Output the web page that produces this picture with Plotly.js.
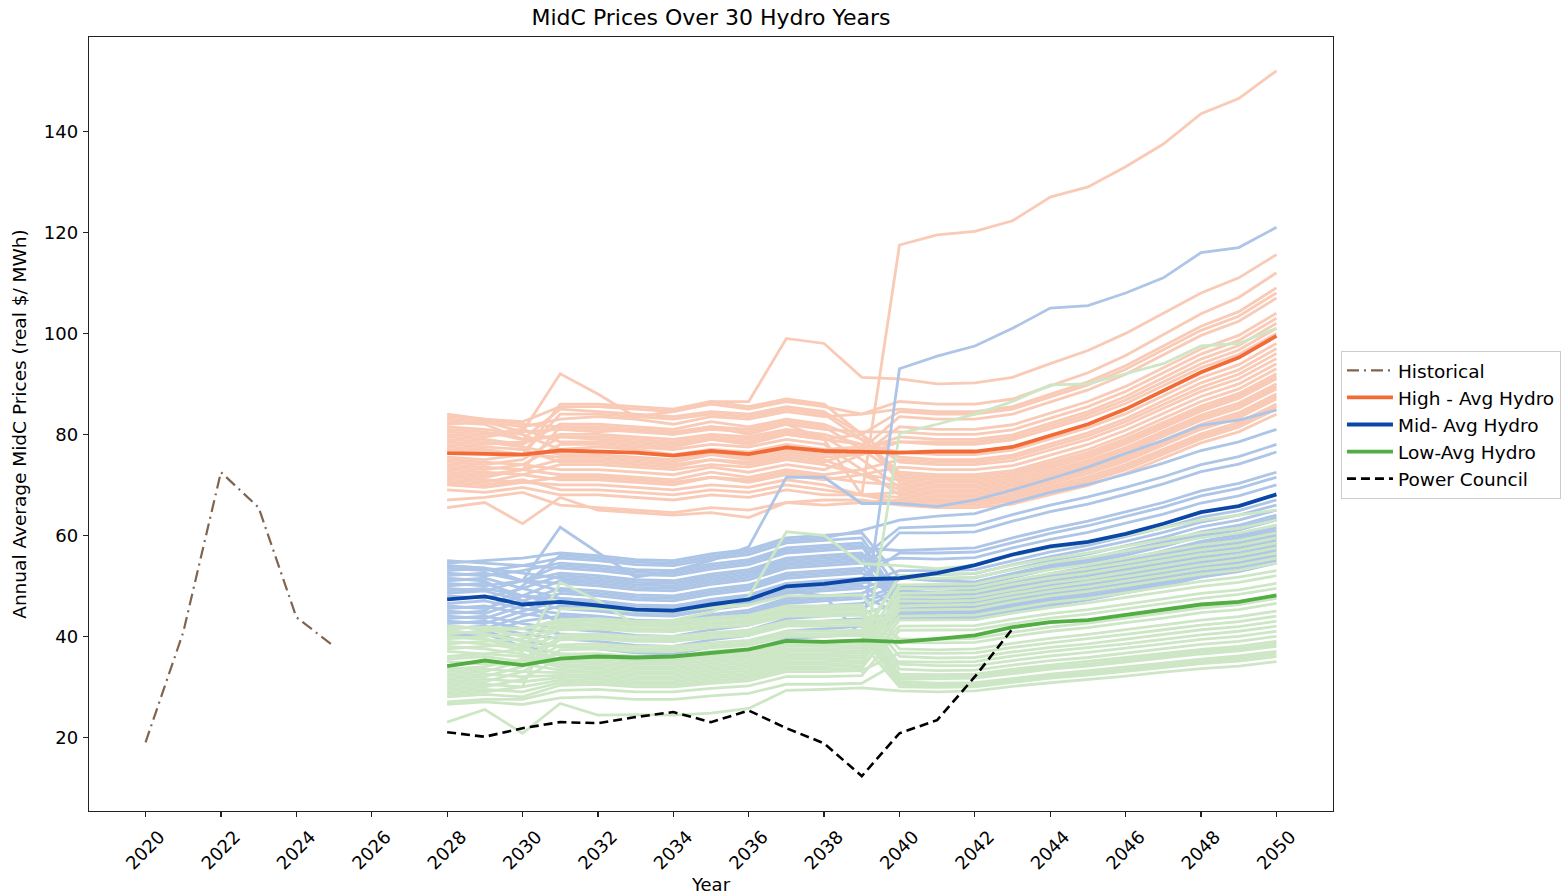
<!DOCTYPE html>
<html>
<head>
<meta charset="utf-8">
<script src="https://cdn.plot.ly/plotly-3.0.1.min.js"></script>
<style>html,body{margin:0;padding:0;background:#fff;}#chart{width:1562px;height:895px;}</style>
</head>
<body>
<div id="chart"></div>
<script>
// ---------------- data ----------------
const histYears = [2020, 2021, 2022, 2023, 2024, 2025];
const histValues = [19, 40.8, 72.5, 65.5, 43.8, 38];

const years = [2028, 2029, 2030, 2031, 2032, 2033, 2034, 2035, 2036, 2037, 2038, 2039, 2040, 2041, 2042, 2043, 2044, 2045, 2046, 2047, 2048, 2049, 2050];

const highAvg = [76.3, 76.2, 76.0, 76.8, 76.6, 76.4, 75.8, 76.7, 76.1, 77.4, 76.7, 76.6, 76.4, 76.6, 76.6, 77.5, 79.8, 82.0, 85.0, 88.7, 92.3, 95.2, 99.5];
const midAvg = [47.3, 47.9, 46.3, 46.8, 46.1, 45.3, 45.1, 46.3, 47.3, 49.9, 50.4, 51.3, 51.5, 52.5, 54.1, 56.2, 57.8, 58.7, 60.3, 62.3, 64.6, 65.8, 68.1];
const lowAvg = [34.1, 35.2, 34.3, 35.6, 36.0, 35.8, 36.0, 36.7, 37.4, 39.1, 38.9, 39.2, 38.9, 39.5, 40.2, 41.8, 42.8, 43.2, 44.2, 45.3, 46.3, 46.8, 48.1];

const pcYears = [2028, 2029, 2030, 2031, 2032, 2033, 2034, 2035, 2036, 2037, 2038, 2039, 2040, 2041, 2042, 2043];
const pcValues = [21, 20.1, 21.8, 23, 22.8, 24, 25, 23, 25.3, 21.8, 18.8, 12.3, 20.8, 23.4, 32, 41.5];

// 30 hydro-year runs, High scenario
const highRuns = [
  [80, 79.5, 80.5, 81, 80.5, 81, 80, 81.5, 80, 82, 79, 68, 117.5, 119.5, 120.2, 122.3, 127, 129, 133, 137.5, 143.5, 146.5, 152],
  [83, 82.5, 80.5, 92, 88, 83.5, 84.5, 86.5, 86.5, 99, 98, 91.3, 91, 90, 90.2, 91.3, 94, 96.6, 100, 104, 108, 111, 115.6],
  [84, 83, 82, 81.5, 81, 80.5, 80, 81, 80.5, 82, 81, 80.5, 80.5, 80, 80, 80.9, 83.2, 85.5, 88.5, 92.2, 95.9, 98.6, 103],
  [83.5, 83, 82.5, 85.5, 85.5, 85, 84.5, 86, 85, 86.5, 85.5, 84, 85, 84.5, 84.5, 85.5, 87.9, 90.4, 93.6, 97.5, 101.4, 104.3, 109],
  [82.5, 82, 79, 79.5, 79, 78.5, 78, 79, 78.5, 80, 79, 78, 76.5, 76, 76, 76.9, 79.1, 81.3, 84.1, 87.7, 91.2, 93.8, 98],
  [82, 82.5, 81.5, 83, 83.5, 83, 82, 83.5, 83, 84.5, 83.5, 84, 86.5, 86, 86, 87, 89.6, 92.2, 95.6, 99.8, 103.9, 107.1, 112],
  [81.5, 81, 80, 77, 77.5, 77, 76, 77, 76.5, 78, 77, 77.5, 78.5, 78.5, 78.5, 79.4, 81.7, 83.9, 86.8, 90.4, 94, 96.7, 101],
  [81, 80.5, 79, 85, 84.5, 84, 83.5, 84.5, 84, 85.5, 84.5, 80, 74.5, 74, 74, 74.8, 76.9, 79, 81.8, 85.1, 88.5, 91, 95],
  [80.5, 80, 81, 78.5, 78.5, 78, 77.5, 79, 78, 80, 79, 80, 84.5, 84, 84, 85, 87.4, 89.8, 92.9, 96.7, 100.6, 103.4, 108],
  [79.5, 79, 78, 82, 82, 81.5, 81, 82.5, 81.5, 83, 82, 79, 72.5, 72, 72, 72.8, 74.9, 77, 79.8, 83.1, 86.5, 89, 93],
  [79, 78.5, 77.5, 76, 76, 75.5, 75, 76.5, 75.5, 77, 76, 77, 79.5, 79, 79, 79.9, 82.2, 84.5, 87.5, 91.2, 94.9, 97.6, 102],
  [78.5, 78, 78.5, 80, 80, 79.5, 79, 80, 79.5, 81, 80, 78, 75.5, 75, 75, 75.9, 78.1, 80.3, 83.1, 86.7, 90.2, 92.8, 97],
  [78, 77.5, 77, 74.5, 74.5, 74, 73.5, 75, 74, 75.5, 74.5, 77, 83.5, 83, 83, 84, 86.4, 88.8, 91.9, 95.7, 99.6, 102.4, 107],
  [77.5, 77, 76, 84, 84, 83.5, 83, 84, 83.5, 85, 84, 79, 71.5, 71, 71, 71.8, 73.9, 75.9, 78.6, 81.9, 85.1, 87.6, 91.5],
  [77, 76.5, 76, 75.5, 75.5, 75, 74.5, 76, 75, 76.5, 75.5, 76, 78.5, 78, 78, 78.9, 81.1, 83.3, 86.1, 89.7, 93.2, 95.8, 100],
  [75.5, 75, 76, 86, 86, 85.5, 85, 86.5, 85.5, 87, 86, 80, 70.5, 70, 70, 70.8, 72.8, 74.8, 77.4, 80.6, 83.8, 86.2, 90],
  [75, 74.5, 74, 73, 73, 72.5, 72, 73.5, 72.5, 74, 73, 76, 81.5, 81, 81, 81.9, 84.2, 86.5, 89.5, 93.2, 96.9, 99.6, 104],
  [74.5, 74, 75, 79.5, 79.5, 79, 78.5, 79.5, 79, 80.5, 79.5, 75, 69.5, 69, 69, 69.8, 71.8, 73.8, 76.4, 79.6, 82.8, 85.2, 89],
  [74, 73.5, 73, 72, 72, 71.5, 71, 72.5, 71.5, 73, 72, 73, 75, 74.5, 74.5, 75.4, 77.5, 79.7, 82.5, 85.9, 89.3, 91.9, 96],
  [73.5, 73, 74, 78, 78, 77.5, 77, 78, 77.5, 79, 78, 73, 68, 67.5, 67.5, 68.3, 70.2, 72.2, 74.7, 77.8, 81, 83.3, 87],
  [73, 72.5, 72, 71, 71, 70.5, 70, 71.5, 70.5, 72, 71, 72, 73.5, 73, 73, 73.8, 75.9, 78, 80.8, 84.1, 87.5, 90, 94],
  [72.5, 72, 73, 75, 75, 74.5, 74, 75, 74.5, 76, 75, 72, 69, 68.5, 68.5, 69.3, 71.2, 73.2, 75.7, 78.8, 82, 84.3, 88],
  [72, 71.5, 73, 81.5, 81.5, 81, 80.5, 81.5, 81, 82.5, 81.5, 77, 72, 71.5, 71.5, 72.3, 74.4, 76.4, 79.1, 82.4, 85.6, 88.1, 92],
  [71.5, 71, 70.5, 70, 70, 69.5, 69, 70, 69.5, 71, 70, 68, 66.5, 66, 66, 66.8, 68.7, 70.6, 73, 76.1, 79.1, 81.4, 85],
  [71, 70.5, 72, 74, 74, 73.5, 73, 74, 73.5, 75, 74, 72, 71, 70.5, 70.5, 71.3, 73.4, 75.4, 78.1, 81.4, 84.6, 87.1, 91],
  [70.5, 70, 71, 69, 69, 68.5, 68, 69, 68.5, 70, 69, 68, 67.5, 67, 67, 67.8, 69.7, 71.6, 74, 77.1, 80.1, 82.4, 86],
  [70, 69.5, 70.5, 71.5, 71.5, 71, 70.5, 71.5, 71, 72.5, 71.5, 70.5, 70, 69.5, 69.5, 70.3, 72.3, 74.3, 76.9, 80.1, 83.3, 85.7, 89.5],
  [69, 68.5, 69.5, 68, 68, 67.5, 67, 68, 67.5, 69, 68, 68, 68.5, 68, 68, 68.8, 70.7, 72.7, 75.2, 78.3, 81.5, 83.8, 87.5],
  [67, 67.5, 68.5, 66, 65.5, 65, 64.5, 65.5, 65, 66.5, 66, 66.5, 67, 66.5, 66.5, 67.3, 69.2, 71.1, 73.5, 76.6, 79.6, 81.9, 85.5],
  [65.5, 66.5, 62.3, 67.5, 65, 64.5, 64, 64.5, 63.5, 66.5, 67, 67, 66, 65.5, 65.5, 66.2, 68.1, 69.9, 72.3, 75.3, 78.3, 80.5, 84]
];

// 30 hydro-year runs, Mid scenario
const midRuns = [
  [49, 49.5, 48, 47.5, 47, 46, 46, 47, 48, 49, 48, 40, 93, 95.5, 97.5, 101, 105, 105.5, 108, 111, 116, 117, 121],
  [54, 53.5, 51, 61.6, 56.6, 51.7, 53, 55, 57.7, 71.5, 71.5, 66.3, 66.3, 65.7, 67, 69, 71.2, 73.5, 76.2, 78.8, 81.8, 82.8, 84.8],
  [55, 54.5, 54, 53.5, 53, 52.2, 52, 53.3, 54.2, 56.5, 57, 57.5, 57, 57.2, 57.5, 59.5, 61.3, 62.8, 64.6, 66.5, 68.8, 70.3, 72.5],
  [54.5, 55, 55.5, 56.5, 56, 55.2, 55, 56.3, 57.2, 59.5, 60, 60.5, 51.5, 51, 50.8, 52.5, 54.1, 55.4, 57, 58.7, 60.7, 62, 64],
  [54, 53.5, 52.5, 51.5, 51, 50.2, 50, 51.3, 52.2, 54.5, 55, 55.5, 61.5, 61.8, 62, 64.1, 66, 67.6, 69.5, 71.6, 74, 75.6, 78],
  [53.5, 53, 54, 55.5, 55, 54.2, 54, 55.3, 56.2, 58.5, 59, 59.5, 49, 48.6, 48.4, 50, 51.6, 52.8, 54.3, 56, 57.9, 59.1, 61],
  [53, 53.5, 51, 49, 48.5, 47.7, 47.5, 48.8, 49.7, 52, 52.5, 53, 60.5, 60.5, 60.7, 62.8, 64.7, 66.2, 68.1, 70.2, 72.6, 74.1, 76.5],
  [52.5, 52, 53, 54.5, 54, 53.2, 53, 54.3, 55.2, 57.5, 58, 58.5, 47.5, 47, 46.8, 48.4, 49.9, 51.1, 52.5, 54.1, 56, 57.2, 59],
  [52, 52.5, 51, 50.5, 50, 49.2, 49, 50.3, 51.2, 53.5, 54, 54.5, 55.5, 55.3, 55.6, 57.5, 59.2, 60.6, 62.4, 64.2, 66.4, 67.8, 70],
  [51.5, 51, 47, 42.5, 42, 41.2, 41, 42.3, 43.2, 45.5, 46, 46.5, 49.5, 49.3, 49.2, 50.9, 52.4, 53.7, 55.2, 56.9, 58.8, 60.1, 62],
  [51, 51.5, 49.5, 47.5, 47, 46.2, 46, 47.3, 48.2, 50.5, 51, 51.5, 56.5, 56.5, 56.7, 58.6, 60.4, 61.9, 63.7, 65.6, 67.8, 69.3, 71.5],
  [50.5, 50, 51, 52.5, 52, 51.2, 51, 52.3, 53.2, 55.5, 56, 56.5, 48, 47.8, 47.6, 49.2, 50.7, 51.9, 53.4, 55, 56.9, 58.1, 60],
  [50, 50.5, 48, 46.5, 46, 45.2, 45, 46.3, 47.2, 49.5, 50, 50.5, 53, 53, 53.2, 55, 56.7, 58, 59.7, 61.5, 63.6, 64.9, 67],
  [49.5, 49, 51, 54, 53.5, 52.7, 52.5, 53.8, 54.7, 57, 57.5, 58, 46, 45.8, 45.6, 47.1, 48.6, 49.8, 51.2, 52.7, 54.5, 55.7, 57.5],
  [48.5, 49, 47, 45.5, 45, 44.2, 44, 45.3, 46.2, 48.5, 49, 49.5, 52, 52.2, 52.4, 54.2, 55.8, 57.2, 58.8, 60.6, 62.6, 64, 66],
  [48, 47.5, 49.5, 52, 51.5, 50.7, 50.5, 51.8, 52.7, 55, 55.5, 56, 47, 46.6, 46.4, 48, 49.4, 50.6, 52.1, 53.7, 55.5, 56.7, 58.5],
  [46.5, 47, 45.5, 44.5, 44, 43.2, 43, 44.3, 45.2, 47.5, 48, 48.5, 51.5, 51.4, 51.6, 53.3, 55, 56.3, 57.9, 59.6, 61.7, 63, 65],
  [46, 45.5, 48, 51, 50.5, 49.7, 49.5, 50.8, 51.7, 54, 54.5, 55, 45, 44.8, 44.8, 46.3, 47.7, 48.9, 50.3, 51.8, 53.6, 54.7, 56.5],
  [45.5, 46, 44.5, 43.5, 43, 42.2, 42, 43.3, 44.2, 46.5, 47, 47.5, 50, 50.2, 50.4, 52.1, 53.7, 55, 56.6, 58.3, 60.2, 61.5, 63.5],
  [45, 44.5, 47, 49.5, 49, 48.2, 48, 49.3, 50.2, 52.5, 53, 53.5, 47.5, 47.2, 47.2, 48.8, 50.3, 51.5, 53, 54.6, 56.4, 57.7, 59.5],
  [44.5, 45, 50, 56, 55.5, 54.7, 54.5, 55.8, 56.7, 59, 59.5, 61, 63, 63.8, 64.3, 66.5, 68.5, 70.1, 72.1, 74.3, 76.8, 78.5, 81],
  [44, 43.5, 46, 48.5, 48, 47.2, 47, 48.3, 49.2, 51.5, 52, 52.5, 50, 49.8, 50, 51.7, 53.3, 54.6, 56.1, 57.8, 59.8, 61.1, 63],
  [43.5, 44, 42.5, 41.5, 41, 40.2, 40, 41.3, 42.2, 44.5, 45, 45.5, 49, 48.6, 48.8, 50.5, 52, 53.2, 54.8, 56.4, 58.3, 59.6, 61.5],
  [43, 42.5, 45, 47, 46.5, 45.7, 45.5, 46.8, 47.7, 50, 50.5, 51, 48.5, 48.2, 48, 49.6, 51.1, 52.4, 53.9, 55.5, 57.4, 58.6, 60.5],
  [42.5, 43, 41.5, 40.5, 40, 39.2, 39, 40.3, 41.2, 43.5, 44, 44.5, 46.5, 46.2, 46, 47.6, 49, 50.2, 51.6, 53.2, 55, 56.2, 58],
  [42, 41.5, 44, 46, 45.5, 44.7, 44.5, 45.8, 46.7, 49, 49.5, 50, 45.5, 45.3, 45.2, 46.7, 48.2, 49.3, 50.7, 52.3, 54.1, 55.2, 57],
  [41.5, 42, 40.5, 39.5, 39, 38.2, 38, 39.3, 40.2, 42.5, 43, 43.5, 44.5, 44.3, 44.4, 45.9, 47.3, 48.5, 49.9, 51.4, 53.1, 54.3, 56],
  [41, 40.5, 43, 44, 43.5, 42.7, 42.5, 43.8, 44.7, 47, 47.5, 48, 44.5, 44.2, 44, 45.5, 46.9, 48, 49.4, 50.9, 52.6, 53.8, 55.5],
  [40.5, 41, 39, 38, 37.5, 36.7, 36.5, 37.8, 38.7, 41, 41.5, 42, 44, 43.8, 43.7, 45.2, 46.5, 47.7, 49, 50.5, 52.2, 53.3, 55],
  [40, 40.5, 38, 36.5, 36, 35.2, 35, 36.3, 37.2, 39.5, 40, 40.5, 43.5, 43.4, 43.3, 44.8, 46.1, 47.2, 48.6, 50, 51.7, 52.8, 54.5]
];

// 30 hydro-year runs, Low scenario
const lowRuns = [
  [35.5, 36, 35, 36.5, 36.5, 36, 36, 37, 37.5, 38.5, 38, 33, 80.2, 82, 84, 86.5, 89.8, 90, 92, 94, 97.5, 98, 101],
  [39.8, 39.5, 37, 50.7, 47.1, 42.2, 43.2, 44.8, 47.8, 60.7, 60, 54.4, 54, 53.4, 54, 56, 57.5, 58.5, 60, 61.5, 63, 64, 65],
  [42, 41.5, 40, 37.8, 38, 37.5, 37.5, 38.2, 38.7, 40.5, 40.5, 40.7, 51.5, 51.5, 51.7, 53.2, 54.6, 55.6, 56.9, 58.2, 59.5, 60.5, 62],
  [41.5, 41.8, 41.5, 42.8, 43, 42.5, 42.5, 43.2, 43.7, 45.5, 45.5, 45.7, 39.5, 39.4, 39.6, 40.8, 41.8, 42.6, 43.6, 44.6, 45.6, 46.3, 47.5],
  [41, 40.5, 39, 36.3, 36.5, 36, 36, 36.7, 37.2, 39, 39, 39.2, 52, 52.3, 52.5, 54.1, 55.4, 56.5, 57.8, 59.1, 60.5, 61.4, 63],
  [40.5, 41, 41.5, 43.3, 43.5, 43, 43, 43.7, 44.2, 46, 46, 46.2, 37.5, 37.3, 37.5, 38.6, 39.6, 40.4, 41.3, 42.2, 43.2, 43.9, 45],
  [40, 39.5, 38, 35.3, 35.5, 35, 35, 35.7, 36.2, 38, 38, 38.2, 49.5, 49.4, 49.6, 51.1, 52.4, 53.4, 54.6, 55.8, 57.1, 58, 59.5],
  [39.5, 40, 40.5, 42.3, 42.5, 42, 42, 42.7, 43.2, 45, 45, 45.2, 36, 35.7, 35.8, 36.9, 37.8, 38.5, 39.4, 40.3, 41.3, 41.9, 43],
  [39, 38.5, 37.5, 34.8, 35, 34.5, 34.5, 35.2, 35.7, 37.5, 37.5, 37.7, 50.2, 50.3, 50.4, 51.9, 53.2, 54.2, 55.5, 56.8, 58.1, 59, 60.5],
  [38.5, 39, 39.5, 41.8, 42, 41.5, 41.5, 42.2, 42.7, 44.5, 44.5, 44.7, 34.5, 34.2, 34.2, 35.2, 36.1, 36.8, 37.6, 38.5, 39.4, 40, 41],
  [38, 37.5, 36.5, 34.3, 34.5, 34, 34, 34.7, 35.2, 37, 37, 37.2, 47.8, 47.7, 47.9, 49.3, 50.6, 51.5, 52.7, 53.9, 55.2, 56.1, 57.5],
  [37.5, 38, 38.5, 41.3, 41.5, 41, 41, 41.7, 42.2, 44, 44, 44.2, 33.5, 33.2, 33.3, 34.3, 35.2, 35.8, 36.7, 37.5, 38.4, 39, 40],
  [37, 36.5, 36, 33.8, 34, 33.5, 33.5, 34.2, 34.7, 36.5, 36.5, 36.7, 48.5, 48.6, 48.8, 50.3, 51.5, 52.5, 53.7, 54.9, 56.2, 57, 58.5],
  [36, 36.5, 37.5, 40.3, 40.5, 40, 40, 40.7, 41.2, 43, 43, 43.2, 32.5, 32.4, 32.5, 33.5, 34.3, 35, 35.8, 36.6, 37.4, 38, 39],
  [35, 34.5, 34.5, 33.3, 33.5, 33, 33, 33.7, 34.2, 36, 36, 36.2, 46, 46.1, 46.3, 47.7, 48.9, 49.8, 50.9, 52.1, 53.3, 54.1, 55.5],
  [33.5, 34, 35.5, 39.8, 40, 39.5, 39.5, 40.2, 40.7, 42.5, 42.5, 42.7, 32, 32, 32.1, 33.1, 33.9, 34.5, 35.3, 36.1, 37, 37.5, 38.5],
  [33, 33.5, 33, 32.8, 33, 32.5, 32.5, 33.2, 33.7, 35.5, 35.5, 35.7, 47, 46.9, 47.1, 48.5, 49.7, 50.7, 51.8, 53, 54.2, 55.1, 56.5],
  [32.5, 33, 35, 39.3, 39.5, 39, 39, 39.7, 40.2, 42, 42, 42.2, 31.5, 31.6, 31.7, 32.6, 33.5, 34.1, 34.9, 35.7, 36.5, 37.1, 38],
  [32, 32.5, 32, 32.3, 32.5, 32, 32, 32.7, 33.2, 35, 35, 35.2, 44, 44.1, 44.2, 45.5, 46.7, 47.5, 48.6, 49.7, 50.9, 51.7, 53],
  [31.5, 32, 34, 38.3, 38.5, 38, 38, 38.7, 39.2, 41, 41, 41.2, 31, 30.7, 30.8, 31.7, 32.5, 33.2, 33.9, 34.7, 35.5, 36.1, 37],
  [31, 31.5, 31, 31.8, 32, 31.5, 31.5, 32.2, 32.7, 34.5, 34.5, 34.7, 45.2, 45.3, 45.4, 46.8, 48, 48.9, 50, 51.1, 52.3, 53.1, 54.5],
  [30.5, 31, 33, 37.3, 37.5, 37, 37, 37.7, 38.2, 40, 40, 40.2, 30.5, 30.3, 30.4, 31.3, 32.1, 32.7, 33.5, 34.2, 35, 35.6, 36.5],
  [30, 30.5, 30, 31.3, 31.5, 31, 31, 31.7, 32.2, 34, 34, 34.2, 42, 42, 42.1, 43.4, 44.5, 45.3, 46.3, 47.4, 48.5, 49.2, 50.5],
  [29.5, 30, 31.5, 35.8, 36, 35.5, 35.5, 36.2, 36.7, 38.5, 38.5, 38.7, 30, 29.9, 30, 30.9, 31.7, 32.3, 33, 33.8, 34.6, 35.1, 36],
  [29, 29.5, 29, 30.8, 31, 30.5, 30.5, 31.2, 31.7, 33.5, 33.5, 33.7, 43.2, 43.2, 43.3, 44.6, 45.7, 46.6, 47.7, 48.8, 49.9, 50.7, 52],
  [28.5, 29, 30, 45.5, 45.5, 45, 45, 45.7, 46.2, 48, 48, 48.2, 38.8, 38.7, 38.8, 40, 41, 41.7, 42.7, 43.6, 44.7, 45.3, 46.5],
  [28, 28.5, 28, 30.3, 30.5, 30, 30, 30.7, 31.2, 33, 33, 33.2, 36.7, 36.6, 36.7, 37.8, 38.7, 39.5, 40.4, 41.3, 42.2, 42.9, 44],
  [27, 27.5, 27.5, 29.3, 29.5, 29, 29, 29.7, 30.2, 32, 32, 32.2, 41.2, 41.2, 41.3, 42.5, 43.6, 44.4, 45.4, 46.5, 47.5, 48.3, 49.5],
  [26.5, 27, 26.5, 27.8, 28, 27.5, 27.5, 28.2, 28.7, 30.5, 30.5, 30.7, 35, 34.9, 35, 36.1, 37, 37.7, 38.5, 39.4, 40.3, 41, 42],
  [23, 25.5, 20.8, 26.7, 24.4, 24.5, 24.4, 24.8, 25.7, 29.3, 29.5, 29.8, 29.2, 29, 29.2, 30.1, 30.8, 31.4, 32.1, 32.9, 33.6, 34.1, 35]
];

const xTicks = [2020, 2022, 2024, 2026, 2028, 2030, 2032, 2034, 2036, 2038, 2040, 2042, 2044, 2046, 2048, 2050];
const yTicks = [20, 40, 60, 80, 100, 120, 140];

// ---------------- styles ----------------
const FONT = '"DejaVu Sans", "Liberation Sans", sans-serif';
const colors = {
  highThin: '#f9cab6', midThin: '#adc5e7', lowThin: '#cde7c6',
  high: '#f26b36', mid: '#0b47a6', low: '#52ad43', hist: '#7f6450', pc: '#000000'
};

const traces = [];
function addRuns(runs, color) {
  runs.forEach(r => traces.push({
    x: years, y: r, type: 'scatter', mode: 'lines',
    line: {color: color, width: 2.8}, showlegend: false, hoverinfo: 'skip'
  }));
}
addRuns(highRuns, colors.highThin);
addRuns(midRuns, colors.midThin);
addRuns(lowRuns, colors.lowThin);

traces.push({x: histYears, y: histValues, type: 'scatter', mode: 'lines', name: 'Historical',
  line: {color: colors.hist, width: 2.2, dash: '12px,5px,2px,5px'}});
traces.push({x: years, y: highAvg, type: 'scatter', mode: 'lines', name: 'High - Avg Hydro',
  line: {color: colors.high, width: 3.8}});
traces.push({x: years, y: midAvg, type: 'scatter', mode: 'lines', name: 'Mid- Avg Hydro',
  line: {color: colors.mid, width: 3.8}});
traces.push({x: years, y: lowAvg, type: 'scatter', mode: 'lines', name: 'Low-Avg Hydro',
  line: {color: colors.low, width: 3.8}});
traces.push({x: pcYears, y: pcValues, type: 'scatter', mode: 'lines', name: 'Power Council',
  line: {color: colors.pc, width: 2.6, dash: '9px,5px'}});

const layout = {
  width: 1562, height: 895,
  margin: {l: 89, r: 229, t: 37, b: 84, pad: 0, autoexpand: false},
  paper_bgcolor: '#fff', plot_bgcolor: '#fff',
  font: {family: FONT, size: 18, color: '#000'},
  title: {text: 'MidC Prices Over 30 Hydro Years', font: {family: FONT, size: 22, color: '#000'},
    x: 0.4552, xanchor: 'center', y: 0.981, yanchor: 'middle'},
  xaxis: {
    range: [2018.5, 2051.5], tickmode: 'array', tickvals: xTicks, ticktext: xTicks.map(String),
    tickangle: -45, ticks: 'outside', ticklen: 5, tickwidth: 1.2, tickcolor: '#222',
    ticklabelshift: 14, ticklabelstandoff: 2,
    showline: true, mirror: true, linecolor: '#222', linewidth: 1.3,
    showgrid: false, zeroline: false, automargin: false,
    tickfont: {family: FONT, size: 18, color: '#000'},
    title: {text: 'Year', font: {family: FONT, size: 18, color: '#000'}, standoff: 7}
  },
  yaxis: {
    range: [5.4, 158.7], tickmode: 'array', tickvals: yTicks,
    ticks: 'outside', ticklen: 5, tickwidth: 1.2, tickcolor: '#222',
    ticklabelstandoff: 1,
    showline: true, mirror: true, linecolor: '#222', linewidth: 1.3,
    showgrid: false, zeroline: false, automargin: false,
    tickfont: {family: FONT, size: 18, color: '#000'},
    title: {text: 'Annual Average MidC Prices (real $/ MWh)', font: {family: FONT, size: 18.5, color: '#000'}, standoff: 12}
  },
  legend: {
    x: 1.0064, xanchor: 'left', y: 0.5945, yanchor: 'top',
    bgcolor: '#fff', bordercolor: '#cccccc', borderwidth: 1,
    font: {family: FONT, size: 18.5, color: '#000'},
    traceorder: 'normal', itemwidth: 46
  },
  showlegend: true
};

Plotly.newPlot('chart', traces, layout, {displayModeBar: false, staticPlot: true});
</script>
</body>
</html>
